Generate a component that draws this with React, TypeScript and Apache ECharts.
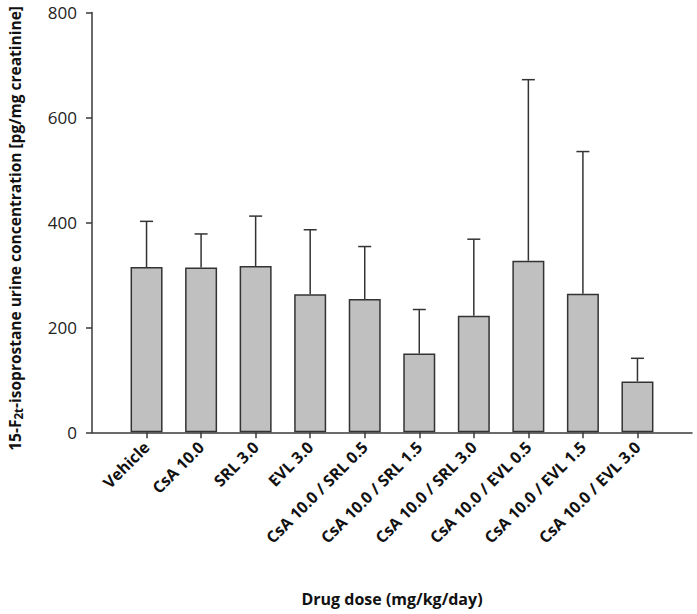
import React, { useEffect, useRef } from "react";
import * as echarts from "echarts";

const categories = [
  "",
  "Vehicle",
  "CsA 10.0",
  "SRL 3.0",
  "EVL 3.0",
  "CsA 10.0 / SRL 0.5",
  "CsA 10.0 / SRL 1.5",
  "CsA 10.0 / SRL 3.0",
  "CsA 10.0 / EVL 0.5",
  "CsA 10.0 / EVL 1.5",
  "CsA 10.0 / EVL 3.0",
  "",
];
const means = [315, 314, 317, 263, 254, 150, 222, 327, 264, 97];
const upperErr = [402, 378, 412, 386, 354, 234, 368, 672, 535, 141];
const yTicks = [0, 200, 400, 600, 800];

const FONT = "'Open Sans', 'Noto Sans', sans-serif";

export default function App() {
  const ref = useRef<HTMLDivElement>(null);
  useEffect(() => {
    if (!ref.current) return;
    const chart = echarts.init(ref.current, null, { renderer: "svg" });
    const barData: any[] = ["-", ...means, "-"];
    const errData = means.map((m, i) => [i + 1, m, upperErr[i]]);
    chart.setOption({
      animation: false,
      backgroundColor: "#ffffff",
      grid: {
        left: 92,
        right: 5,
        top: 12.5,
        bottom: 181.7,
        containLabel: false,
        outerBoundsMode: "none",
      },
      xAxis: {
        type: "category",
        data: categories,
        boundaryGap: false,
        axisLine: { lineStyle: { color: "#3a3a3a", width: 1.5 } },
        axisTick: {
          show: true,
          length: 6,
          inside: false,
          interval: (idx: number, val: string) => val !== "",
          lineStyle: { color: "#3a3a3a", width: 1.5 },
        },
        axisLabel: {
          interval: 0,
          rotate: 45,
          margin: 12,
          fontFamily: FONT,
          fontWeight: "bold",
          fontSize: 16,
          color: "#111111",
        },
        name: "Drug dose (mg/kg/day)",
        nameLocation: "middle",
        nameGap: 159,
        nameTextStyle: { fontFamily: FONT, fontWeight: "bold", fontSize: 16, color: "#111111" },
        splitLine: { show: false },
      },
      yAxis: {
        type: "value",
        min: 0,
        max: 800,
        interval: 200,
        axisLine: { show: true, lineStyle: { color: "#3a3a3a", width: 1.5 } },
        axisTick: { show: true, length: 6, lineStyle: { color: "#3a3a3a", width: 1.5 } },
        axisLabel: {
          margin: 15,
          fontFamily: FONT,
          fontSize: 17,
          color: "#222222",
          formatter: (v: number) => (yTicks.includes(v) ? String(v) : ""),
        },
        splitLine: { show: false },
        name: "15-F{sub|2t}-isoprostane urine concentration [pg/mg creatinine]",
        nameLocation: "middle",
        nameGap: 68,
        nameRotate: 90,
        nameTextStyle: {
          fontFamily: FONT,
          fontWeight: "bold",
          fontSize: 15.5,
          color: "#111111",
          padding: [0, 12, 0, 0],
          rich: {
            sub: {
              fontFamily: FONT,
              fontWeight: "bold",
              fontSize: 11.5,
              color: "#111111",
              verticalAlign: "bottom",
              padding: [6, 0, 0, 0],
            },
          },
        },
      },
      series: [
        {
          type: "bar",
          data: barData,
          barWidth: 32,
          itemStyle: { color: "#c0c0c0", borderColor: "#333333", borderWidth: 1.5 },
          z: 2,
        },
        {
          type: "custom",
          data: errData,
          encode: { x: 0, y: [1, 2] },
          z: 3,
          renderItem: (params: any, api: any) => {
            const x = api.value(0);
            const lo = api.coord([x, api.value(1)]);
            const hi = api.coord([x, api.value(2)]);
            const half = 6.5;
            const style = { stroke: "#333333", lineWidth: 1.5 };
            return {
              type: "group",
              children: [
                { type: "line", shape: { x1: lo[0], y1: lo[1], x2: hi[0], y2: hi[1] }, style },
                { type: "line", shape: { x1: hi[0] - half, y1: hi[1], x2: hi[0] + half, y2: hi[1] }, style },
              ],
            };
          },
        },
      ],
    });
    return () => chart.dispose();
  }, []);
  return (
    <div
      ref={ref}
      style={{ position: "fixed", left: 0, top: 0, width: 697, height: 614, background: "#fff" }}
    />
  );
}
